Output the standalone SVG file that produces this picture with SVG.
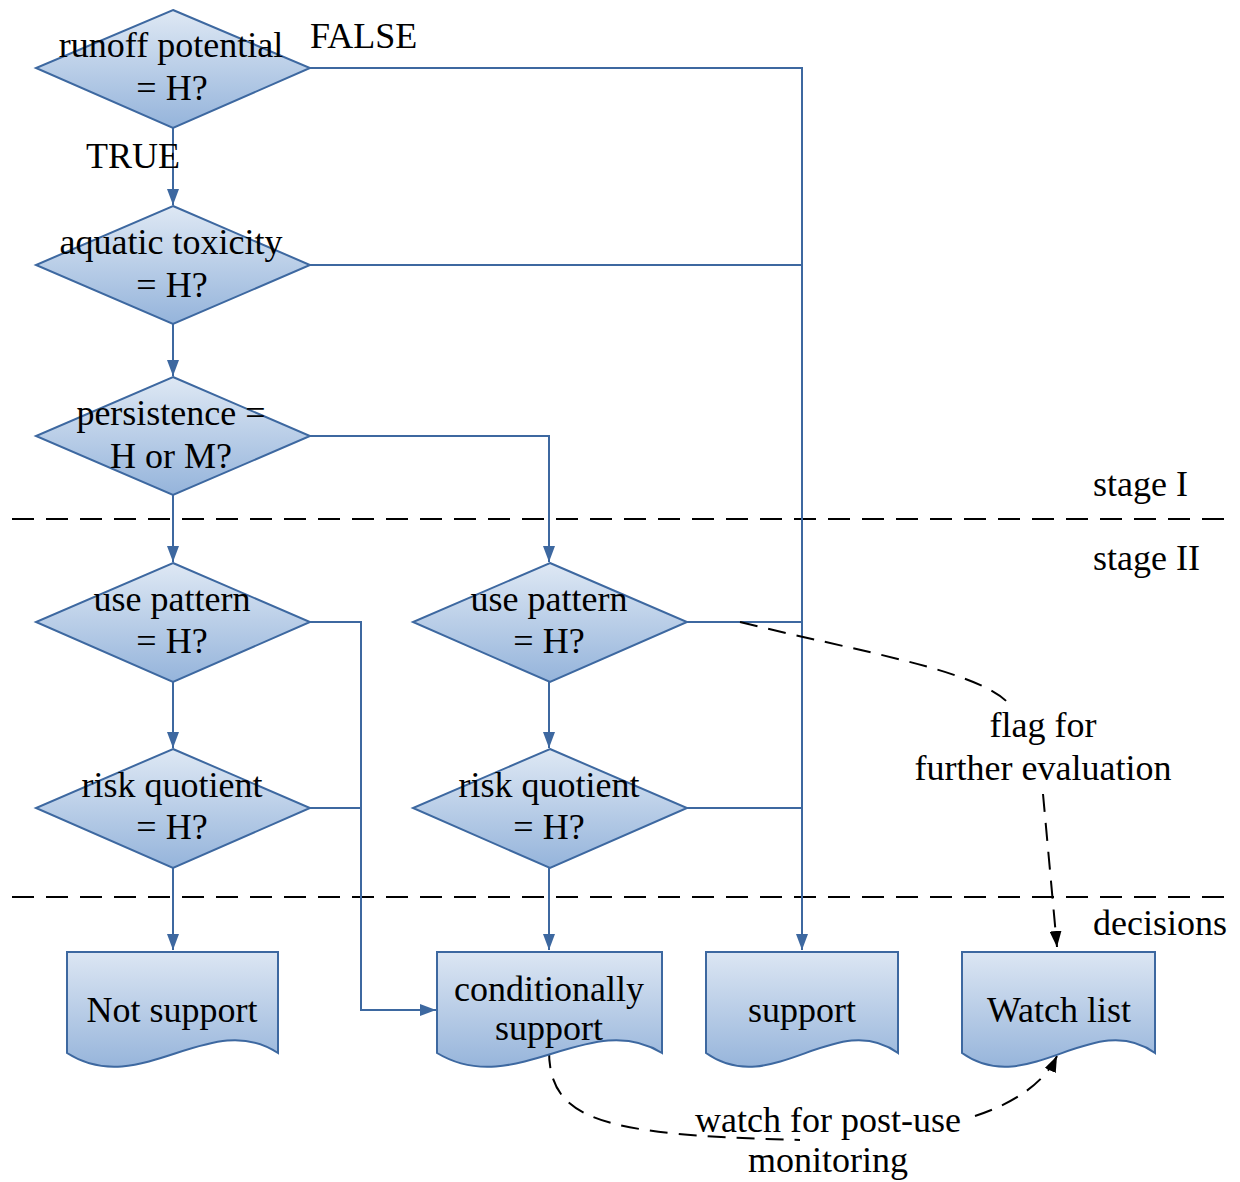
<svg xmlns="http://www.w3.org/2000/svg" width="1240" height="1182" viewBox="0 0 1240 1182">
  <style>
    .shape { stroke: #3d68a0; stroke-width: 2; }
    .dia { fill: url(#gDia); }
    .doc { fill: url(#gDoc); }
    .wire { fill: none; stroke: #3d68a0; stroke-width: 2; }
    .arr { marker-end: url(#blueArrow); }
    .dash { fill: none; stroke: #000; stroke-width: 2; stroke-dasharray: 18 11; }
    .sep { fill: none; stroke: #000; stroke-width: 2; stroke-dasharray: 22 12; }
    text { font-family: "Liberation Serif", "Times New Roman", serif; font-size: 36px; fill: #000; }
    .c { text-anchor: middle; }
  </style>
  <defs>
    <linearGradient id="gDia" x1="0" y1="0" x2="0" y2="1">
      <stop offset="0" stop-color="#dee8f4"/>
      <stop offset="1" stop-color="#95b4db"/>
    </linearGradient>
    <linearGradient id="gDoc" x1="0" y1="0" x2="0" y2="1">
      <stop offset="0" stop-color="#dce6f3"/>
      <stop offset="1" stop-color="#97b5db"/>
    </linearGradient>
    <marker id="blueArrow" viewBox="0 0 16 12" refX="16" refY="6" markerWidth="16" markerHeight="12" markerUnits="userSpaceOnUse" orient="auto">
      <path d="M0,0 L16,6 L0,12 Z" fill="#3d68a0"/>
    </marker>
    <marker id="blackArrow" viewBox="0 0 16 12" refX="16" refY="6" markerWidth="16" markerHeight="12" markerUnits="userSpaceOnUse" orient="auto">
      <path d="M0,0 L16,6 L0,12 Z" fill="#000"/>
    </marker>
  </defs>

  <!-- stage separators -->
  <g id="separators">
    <line class="sep" x1="12" y1="519" x2="1225" y2="519"/>
    <line class="sep" x1="12" y1="897" x2="1225" y2="897"/>
    <text x="1093" y="496">stage I</text>
    <text x="1093" y="570">stage II</text>
    <text x="1093" y="935">decisions</text>
  </g>

  <!-- connectors -->
  <g id="connectors">
    <!-- main column -->
    <line class="wire arr" x1="173" y1="128" x2="173" y2="205"/>
    <line class="wire arr" x1="173" y1="324" x2="173" y2="376"/>
    <line class="wire arr" x1="173" y1="495" x2="173" y2="562"/>
    <line class="wire arr" x1="173" y1="682" x2="173" y2="748"/>
    <line class="wire arr" x1="173" y1="868" x2="173" y2="950"/>
    <!-- second column -->
    <path class="wire arr" d="M310,436 H549 V562"/>
    <line class="wire arr" x1="549" y1="682" x2="549" y2="748"/>
    <line class="wire arr" x1="549" y1="868" x2="549" y2="950"/>
    <!-- FALSE branches to support -->
    <path class="wire arr" d="M310,68 H802 V950"/>
    <line class="wire" x1="310" y1="265" x2="802" y2="265"/>
    <line class="wire" x1="687" y1="622" x2="802" y2="622"/>
    <line class="wire" x1="687" y1="808" x2="802" y2="808"/>
    <!-- left branches to conditionally support -->
    <path class="wire arr" d="M310,622 H361 V1010 H436"/>
    <line class="wire" x1="310" y1="808" x2="361" y2="808"/>
    <!-- dashed advisory links -->
    <path class="dash" d="M740,622 C860,652 990,672 1012,708"/>
    <path class="dash" d="M1043,794 L1057,947" marker-end="url(#blackArrow)"/>
    <path class="dash" d="M549,1050 C549,1120 600,1135 800,1140"/>
    <path class="dash" d="M975,1116 C1015,1103 1045,1082 1057,1056" marker-end="url(#blackArrow)"/>
    <text x="310" y="48">FALSE</text>
    <text x="86" y="168">TRUE</text>
  </g>

  <!-- decision nodes -->
  <g id="d-runoff">
    <polygon class="shape dia" points="173,10 310,68 173,128 36,68"/>
    <text class="c" x="171" y="57">runoff potential</text>
    <text class="c" x="172" y="100">= H?</text>
  </g>
  <g id="d-aquatic">
    <polygon class="shape dia" points="173,206 310,265 173,324 36,265"/>
    <text class="c" x="171" y="254">aquatic toxicity</text>
    <text class="c" x="172" y="297">= H?</text>
  </g>
  <g id="d-persistence">
    <polygon class="shape dia" points="173,377 310,436 173,495 36,436"/>
    <text class="c" x="171" y="425">persistence =</text>
    <text class="c" x="171" y="468">H or M?</text>
  </g>
  <g id="d-use-left">
    <polygon class="shape dia" points="173,563 310,622 173,682 36,622"/>
    <text class="c" x="172" y="611">use pattern</text>
    <text class="c" x="172" y="653">= H?</text>
  </g>
  <g id="d-risk-left">
    <polygon class="shape dia" points="173,749 310,808 173,868 36,808"/>
    <text class="c" x="172" y="797">risk quotient</text>
    <text class="c" x="172" y="839">= H?</text>
  </g>
  <g id="d-use-right">
    <polygon class="shape dia" points="550,563 687,622 550,682 413,622"/>
    <text class="c" x="549" y="611">use pattern</text>
    <text class="c" x="549" y="653">= H?</text>
  </g>
  <g id="d-risk-right">
    <polygon class="shape dia" points="550,749 687,808 550,868 413,808"/>
    <text class="c" x="549" y="797">risk quotient</text>
    <text class="c" x="549" y="839">= H?</text>
  </g>

  <!-- outcome documents -->
  <g id="o-not-support">
    <path class="shape doc" d="M67,952 H278 V1053 C210,1008 140,1100 67,1053 Z"/>
    <text class="c" x="172" y="1022">Not support</text>
  </g>
  <g id="o-conditional">
    <path class="shape doc" d="M437,952 H662 V1053 C590,1008 515,1100 437,1053 Z"/>
    <text class="c" x="549" y="1001">conditionally</text>
    <text class="c" x="549" y="1040">support</text>
  </g>
  <g id="o-support">
    <path class="shape doc" d="M706,952 H898 V1053 C836,1008 772,1100 706,1053 Z"/>
    <text class="c" x="802" y="1022">support</text>
  </g>
  <g id="o-watch">
    <path class="shape doc" d="M962,952 H1155 V1053 C1093,1008 1028,1100 962,1053 Z"/>
    <text class="c" x="1059" y="1022">Watch list</text>
  </g>

  <!-- advisory labels -->
  <g id="l-flag">
    <text class="c" x="1043" y="737">flag for</text>
    <text class="c" x="1043" y="780">further evaluation</text>
  </g>
  <g id="l-watch">
    <text class="c" x="828" y="1132">watch for post-use</text>
    <text class="c" x="828" y="1172">monitoring</text>
  </g>
</svg>
